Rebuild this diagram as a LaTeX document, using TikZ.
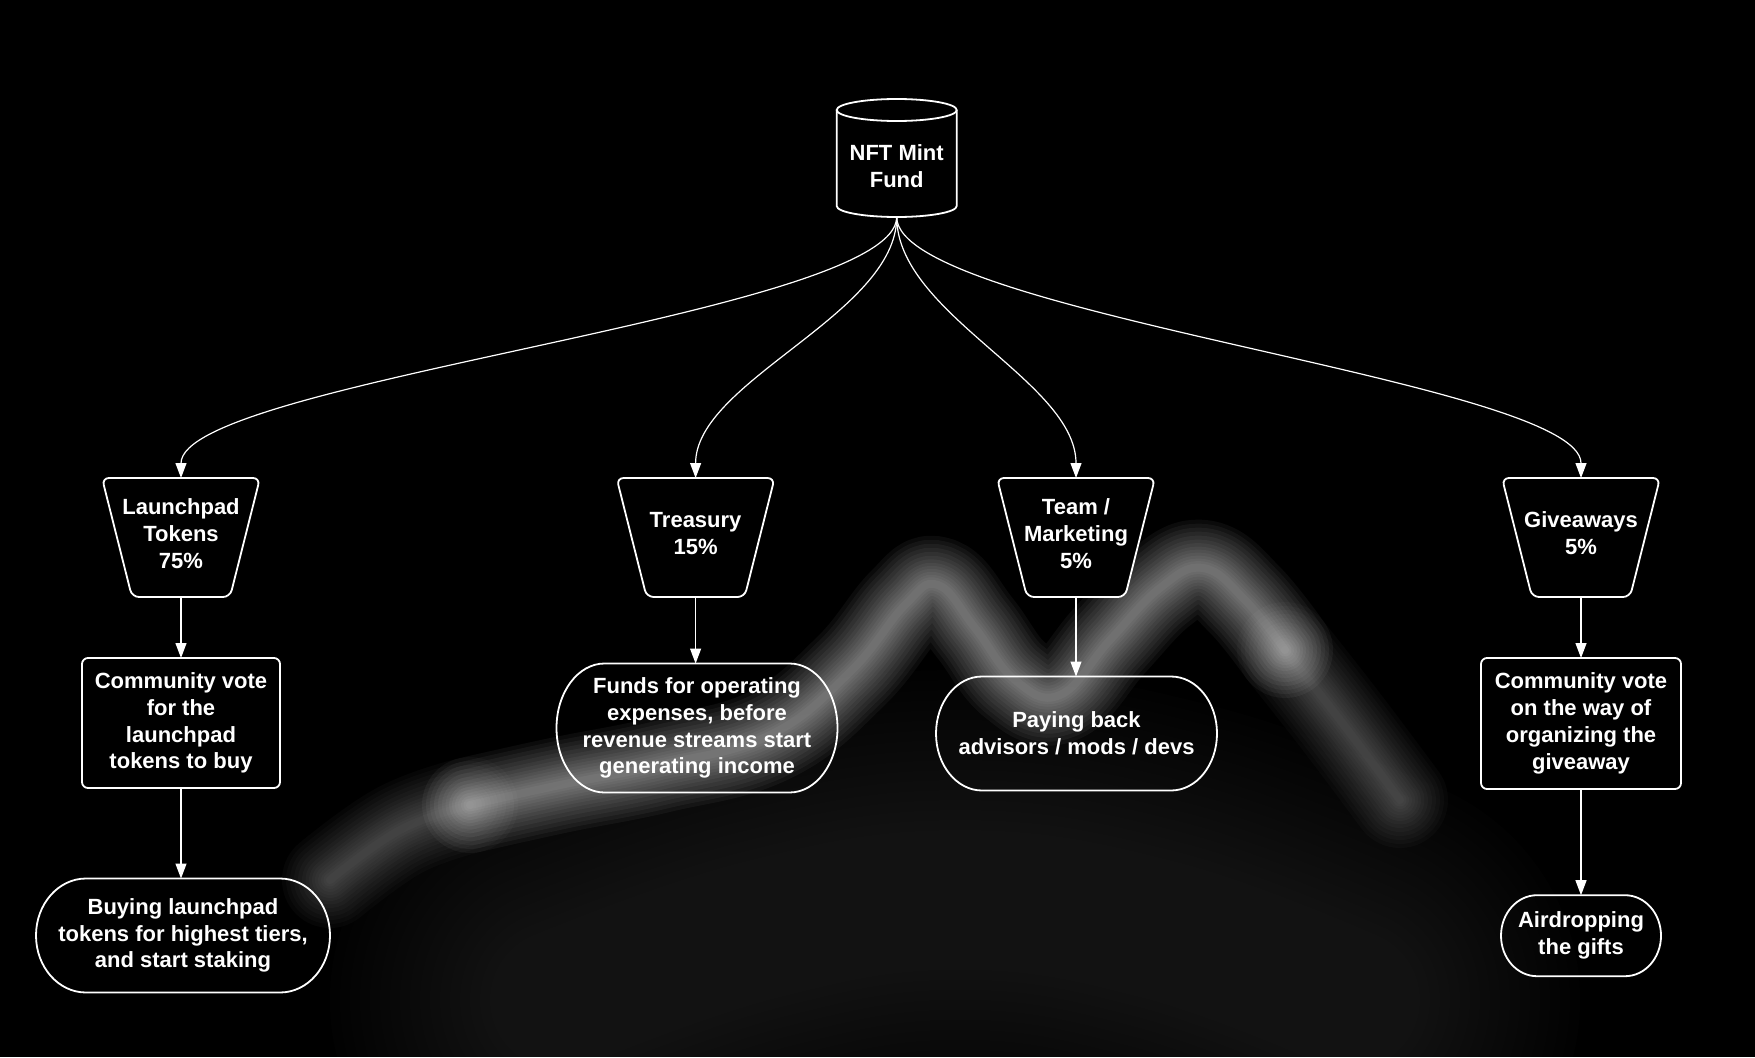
\documentclass[tikz,border=0pt]{standalone}
\usepackage{fontspec}
\setmainfont{Liberation Sans}
\usetikzlibrary{arrows.meta,calc}
\begin{document}
\begin{tikzpicture}[x=1pt,y=-1pt,
  txt/.style={text=white,font=\fontsize{22}{26.8}\selectfont\bfseries,align=center,inner sep=0pt,outer sep=0pt},
  shapeline/.style={draw=white,line width=1.8pt},
  conn/.style={draw=white,line width=1.2pt,-{Triangle[length=15pt,width=11pt]}},
  glow/.style={white,line cap=round,line join=round}]
\newcommand{\trapz}[4]{%
  \draw[shapeline,fill=black,rounded corners=7pt] (#2-79,537.5-59.5) -- (#2+79,537.5-59.5) -- (#2+49,537.5+59.5) -- (#2-49,537.5+59.5) -- cycle;
  \coordinate (#1top) at (#2,478);
  \coordinate (#1bot) at (#2,597);
  \node[txt] (#1) at (#2,#3) {#4};}
\newcommand{\stad}[7]{%
  \node[txt,minimum width=#4pt,minimum height=#5pt] (#1) at (#2,#3) {#7};
  \draw[shapeline] ($(#1.north west)+(#6,0)$) -- ($(#1.north east)+(-#6,0)$)
    arc[start angle=-90,end angle=90,x radius=#6,y radius=#5/2]
    -- ($(#1.south west)+(#6,0)$)
    arc[start angle=90,end angle=270,x radius=#6,y radius=#5/2] -- cycle;}
\useasboundingbox (0,0) rectangle (1755,1057);
\fill[black] (0,0) rectangle (1755,1057);
% background glow
\begin{scope}
\clip (0,0) rectangle (1755,1057);
\foreach \w in {460,440,...,140} {
  \draw[glow,opacity=0.008,line width=\w pt] plot[smooth,tension=0.7] coordinates {(560,1000) (760,930) (960,900) (1160,930) (1350,1000)};
}
\foreach \w in {96,88,80,72,64,56,49,42,36,30,24,18,13,8} {
  \draw[glow,opacity=0.042,line width=\w pt] plot[smooth,tension=0.7] coordinates {(470,805) (560,785) (660,765) (770,735) (850,672) (905,605) (938,585) (975,628) (1015,680) (1060,695) (1110,640) (1160,588) (1203,568) (1245,600) (1285,650)};
  \draw[glow,opacity=0.022,line width=\w pt] plot[smooth,tension=0.7] coordinates {(330,880) (400,830) (470,805)};
  \draw[glow,opacity=0.022,line width=\w pt] plot[smooth,tension=0.7] coordinates {(1285,650) (1340,720) (1400,800)};
}
\end{scope}
% cylinder
\draw[shapeline,fill=black] (836.7,110) -- (836.7,206) arc[start angle=180,end angle=0,x radius=60,y radius=11] -- (956.7,110);
\draw[shapeline,fill=black] (896.7,110) ellipse[x radius=60,y radius=11];
\node[txt] (fund) at (896.7,166) {NFT Mint\\Fund};
\coordinate (fundout) at (896.7,217);
% trapezoids
\trapz{t1}{181}{533.5}{Launchpad\\Tokens\\75\%}
\trapz{t2}{695.6}{533.5}{Treasury\\15\%}
\trapz{t3}{1076}{533.5}{Team /\\Marketing\\5\%}
\trapz{t4}{1581}{533.5}{Giveaways\\5\%}
% rectangles
\node[txt,shapeline,fill=black,rounded corners=6pt,minimum width=198pt,minimum height=130pt] (cv1) at (181,723) {Community vote\\for the\\launchpad\\tokens to buy};
\node[txt,shapeline,fill=black,rounded corners=6pt,minimum width=200pt,minimum height=131pt] (cv2) at (1581,723.5) {Community vote\\on the way of\\organizing the\\giveaway};
% stadiums
\stad{buy}{183}{935.5}{294}{114}{50}{Buying launchpad\\tokens for highest tiers,\\and start staking}
\stad{ops}{697}{728}{281}{129}{48}{Funds for operating\\expenses, before\\revenue streams start\\generating income}
\stad{pay}{1076.5}{733.5}{281}{114}{46}{Paying back\\advisors / mods / devs}
\stad{air}{1581}{935.7}{160}{81}{36}{Airdropping\\the gifts}
% connectors
\foreach \t in {t1,t2,t3,t4}
  \draw[conn] (fundout) .. controls +(0,97) and +(0,-97) .. (\t top);
\draw[conn] (t1bot) -- (cv1.north);
\draw[conn] (cv1.south) -- (cv1.south |- buy.north);
\draw[conn] (t2bot) -- (t2bot |- ops.north);
\draw[conn] (t3bot) -- (t3bot |- pay.north);
\draw[conn] (t4bot) -- (cv2.north);
\draw[conn] (cv2.south) -- (air.north);
\end{tikzpicture}
\end{document}
